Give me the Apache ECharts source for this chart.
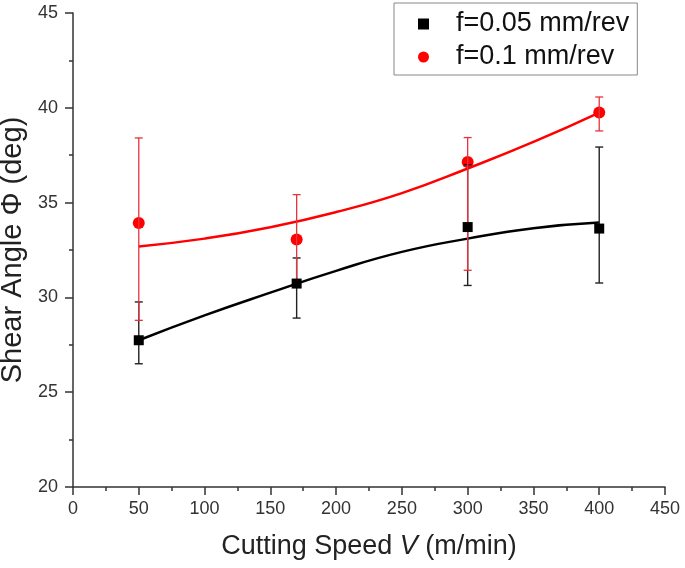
<!DOCTYPE html>
<html>
<head>
<meta charset="utf-8">
<script src="https://cdn.jsdelivr.net/npm/echarts@6/dist/echarts.min.js"></script>
<style>
html,body{margin:0;padding:0;background:#fff;}
#chart{width:685px;height:568px;}
</style>
</head>
<body>
<div id="chart"></div>
<script>
// ---- data ----
var speeds = [50, 170, 300, 400];
var angleF005 = [27.74, 30.73, 33.71, 33.63];
var lowF005 = [26.5, 28.91, 30.63, 30.76];
var highF005 = [29.76, 32.08, 37.0, 37.93];
var angleF01 = [33.92, 33.06, 37.14, 39.75];
var lowF01 = [28.79, 30.7, 31.43, 38.78];
var highF01 = [38.41, 35.42, 38.43, 40.57];
var fitSpeeds = [50, 100, 150, 200, 250, 300, 350, 400];
var fitF005 = [27.74, 29.05, 30.25, 31.4, 32.4, 33.1, 33.65, 33.95];
var fitF01 = [32.69, 33.1, 33.7, 34.5, 35.5, 36.8, 38.2, 39.75];
var xTicks = [0, 50, 100, 150, 200, 250, 300, 350, 400, 450];
var yTicks = [20, 25, 30, 35, 40, 45];
var seriesNames = ['f=0.05 mm/rev', 'f=0.1 mm/rev'];

var FONT = 'Liberation Sans, Arial, sans-serif';
var AXIS_COLOR = '#333';

function pairs(xs, ys) { return xs.map(function (x, i) { return [x, ys[i]]; }); }
function triples(xs, lo, hi) { return xs.map(function (x, i) { return [x, lo[i], hi[i]]; }); }

function errRender(color, width) {
  return function (params, api) {
    var x = api.value(0);
    var pHigh = api.coord([x, api.value(2)]);
    var pLow = api.coord([x, api.value(1)]);
    var hw = 4;
    var st = { stroke: color, lineWidth: width };
    return {
      type: 'group',
      children: [
        { type: 'line', shape: { x1: pHigh[0], y1: pHigh[1], x2: pLow[0], y2: pLow[1] }, style: st },
        { type: 'line', shape: { x1: pHigh[0] - hw, y1: pHigh[1], x2: pHigh[0] + hw, y2: pHigh[1] }, style: st },
        { type: 'line', shape: { x1: pLow[0] - hw, y1: pLow[1], x2: pLow[0] + hw, y2: pLow[1] }, style: st }
      ]
    };
  };
}

var chart = echarts.init(document.getElementById('chart'), null, { renderer: 'canvas' });

var axisCommon = {
  type: 'value',
  splitLine: { show: false },
  axisLine: { show: true, lineStyle: { color: AXIS_COLOR, width: 1.5 } },
  axisTick: { show: true, inside: false, length: 8, lineStyle: { color: AXIS_COLOR, width: 1.5 } },
  minorTick: { show: true, splitNumber: 2, length: 4, lineStyle: { color: AXIS_COLOR, width: 1.5 } },
  minorSplitLine: { show: false }
};

chart.setOption({
  backgroundColor: '#fff',
  animation: false,
  grid: { left: 73, right: 20, top: 13, bottom: 81, containLabel: false, outerBoundsMode: 'none' },
  xAxis: Object.assign({}, axisCommon, {
    min: xTicks[0], max: xTicks[xTicks.length - 1], interval: xTicks[1] - xTicks[0],
    axisLabel: { fontSize: 18, margin: 13, color: AXIS_COLOR, fontFamily: FONT },
    name: '{a|Cutting Speed }{i|V}{a| (m/min)}',
    nameLocation: 'middle',
    nameGap: 46,
    nameTextStyle: {
      rich: {
        a: { fontSize: 27, fontFamily: FONT, color: '#222' },
        i: { fontSize: 27, fontFamily: FONT, fontStyle: 'italic', color: '#222' }
      }
    }
  }),
  yAxis: Object.assign({}, axisCommon, {
    min: yTicks[0], max: yTicks[yTicks.length - 1], interval: yTicks[1] - yTicks[0],
    axisLabel: { fontSize: 18, margin: 15, color: AXIS_COLOR, fontFamily: FONT },
    name: 'Shear Angle \u03A6 (deg)',
    nameLocation: 'middle',
    nameGap: 42,
    nameTextStyle: { fontSize: 29, fontFamily: FONT, color: '#222' }
  }),
  legend: {
    data: seriesNames,
    orient: 'vertical',
    left: 394,
    top: 3,
    padding: [6, 8, 3, 24],
    itemGap: 3,
    itemWidth: 11,
    itemHeight: 11,
    borderColor: '#888',
    borderWidth: 1,
    backgroundColor: '#fff',
    textStyle: { fontSize: 27, lineHeight: 30, fontFamily: FONT, color: '#111', padding: [0, 0, 0, 22] }
  },
  series: [
    {
      name: 'fit1', type: 'line', data: pairs(fitSpeeds, fitF005), smooth: true,
      showSymbol: false, symbol: 'none', z: 1,
      lineStyle: { color: '#000', width: 2.5 }
    },
    {
      name: 'fit2', type: 'line', data: pairs(fitSpeeds, fitF01), smooth: true,
      showSymbol: false, symbol: 'none', z: 1,
      lineStyle: { color: '#ff0000', width: 2.5 }
    },
    {
      name: seriesNames[1], type: 'scatter', data: pairs(speeds, angleF01),
      symbol: 'circle', symbolSize: 12, z: 2,
      itemStyle: { color: '#ff0000', opacity: 1 }
    },
    {
      name: 'err1', type: 'custom', data: triples(speeds, lowF005, highF005),
      encode: { x: 0, y: [1, 2] }, z: 3,
      renderItem: errRender('#222', 1.4)
    },
    {
      name: 'err2', type: 'custom', data: triples(speeds, lowF01, highF01),
      encode: { x: 0, y: [1, 2] }, z: 4,
      renderItem: errRender('#e8323c', 1.3)
    },
    {
      name: seriesNames[0], type: 'scatter', data: pairs(speeds, angleF005),
      symbol: 'rect', symbolSize: 10, z: 5,
      itemStyle: { color: '#000', opacity: 1 }
    }
  ]
});
</script>
</body>
</html>
